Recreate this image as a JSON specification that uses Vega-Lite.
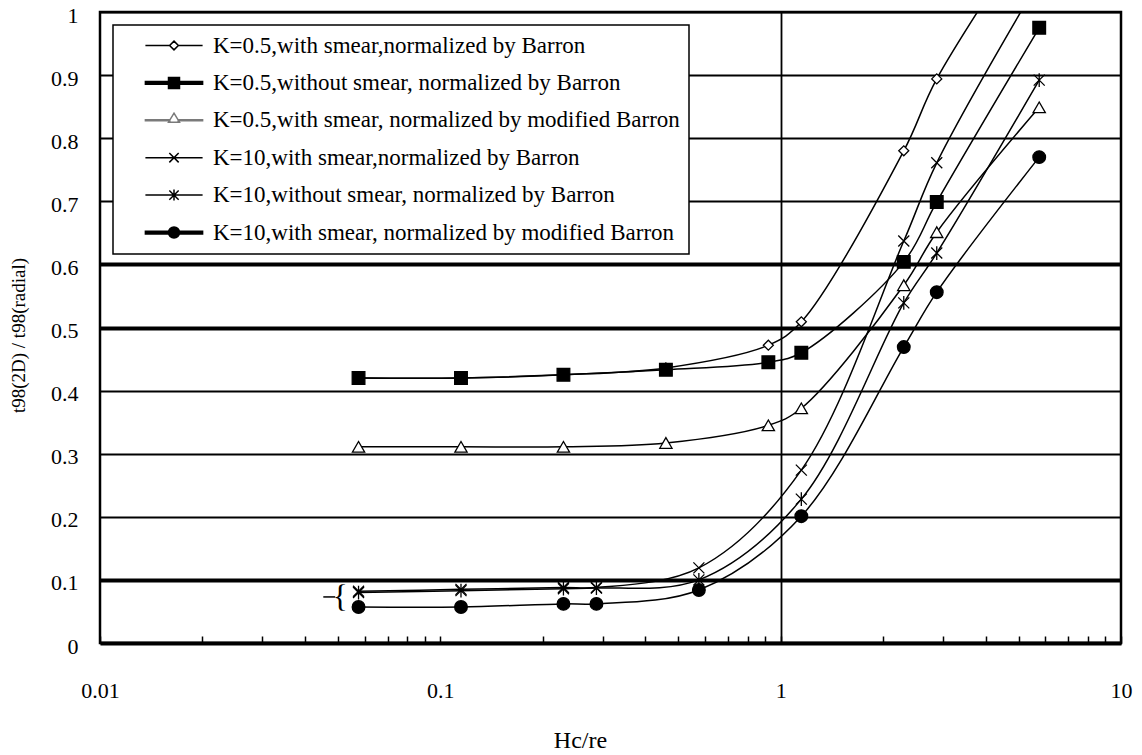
{
  "$schema": "https://vega.github.io/schema/vega-lite/v6.json",
  "width": 1021,
  "height": 631,
  "autosize": {"type": "none"},
  "padding": {"left": 100, "top": 12, "right": 21, "bottom": 112},
  "background": "white",
  "config": {
    "view": {"stroke": "black", "strokeWidth": 2.5},
    "font": "Liberation Serif, Times New Roman, Times, serif",
    "legend": {
      "orient": "none",
      "legendX": 13,
      "legendY": 13,
      "fillColor": "white",
      "strokeColor": "black",
      "padding": 9,
      "rowPadding": 13.4,
      "symbolSize": 121,
      "symbolStrokeWidth": 1.5,
      "symbolOpacity": 1,
      "symbolOffset": 40.5,
      "labelOffset": 27.5,
      "labelFontSize": 23,
      "labelColor": "black",
      "labelLimit": 2000
    }
  },
  "resolve": {"scale": {"shape": "independent"}},
  "datasets": {
    "pts": [
      {"s": "K=0.5,with smear,normalized by Barron", "x": 0.0575, "y": 0.42},
      {"s": "K=0.5,with smear,normalized by Barron", "x": 0.115, "y": 0.42},
      {"s": "K=0.5,with smear,normalized by Barron", "x": 0.23, "y": 0.425},
      {"s": "K=0.5,with smear,normalized by Barron", "x": 0.46, "y": 0.436},
      {"s": "K=0.5,with smear,normalized by Barron", "x": 0.92, "y": 0.472},
      {"s": "K=0.5,with smear,normalized by Barron", "x": 1.15, "y": 0.509},
      {"s": "K=0.5,with smear,normalized by Barron", "x": 2.3, "y": 0.78},
      {"s": "K=0.5,with smear,normalized by Barron", "x": 2.875, "y": 0.894},
      {"s": "K=0.5,with smear,normalized by Barron", "x": 5.75, "y": 1.15},
      {"s": "K=0.5,without smear, normalized by Barron", "x": 0.0575, "y": 0.42},
      {"s": "K=0.5,without smear, normalized by Barron", "x": 0.115, "y": 0.42},
      {"s": "K=0.5,without smear, normalized by Barron", "x": 0.23, "y": 0.425},
      {"s": "K=0.5,without smear, normalized by Barron", "x": 0.46, "y": 0.433},
      {"s": "K=0.5,without smear, normalized by Barron", "x": 0.92, "y": 0.445},
      {"s": "K=0.5,without smear, normalized by Barron", "x": 1.15, "y": 0.46},
      {"s": "K=0.5,without smear, normalized by Barron", "x": 2.3, "y": 0.604},
      {"s": "K=0.5,without smear, normalized by Barron", "x": 2.875, "y": 0.699},
      {"s": "K=0.5,without smear, normalized by Barron", "x": 5.75, "y": 0.975},
      {"s": "K=0.5,with smear, normalized by modified Barron", "x": 0.0575, "y": 0.311},
      {"s": "K=0.5,with smear, normalized by modified Barron", "x": 0.115, "y": 0.311},
      {"s": "K=0.5,with smear, normalized by modified Barron", "x": 0.23, "y": 0.311},
      {"s": "K=0.5,with smear, normalized by modified Barron", "x": 0.46, "y": 0.317},
      {"s": "K=0.5,with smear, normalized by modified Barron", "x": 0.92, "y": 0.345},
      {"s": "K=0.5,with smear, normalized by modified Barron", "x": 1.15, "y": 0.372},
      {"s": "K=0.5,with smear, normalized by modified Barron", "x": 2.3, "y": 0.567},
      {"s": "K=0.5,with smear, normalized by modified Barron", "x": 2.875, "y": 0.651},
      {"s": "K=0.5,with smear, normalized by modified Barron", "x": 5.75, "y": 0.849},
      {"s": "K=10,with smear,normalized by Barron", "x": 0.0575, "y": 0.082},
      {"s": "K=10,with smear,normalized by Barron", "x": 0.115, "y": 0.085},
      {"s": "K=10,with smear,normalized by Barron", "x": 0.23, "y": 0.088},
      {"s": "K=10,with smear,normalized by Barron", "x": 0.2875, "y": 0.088},
      {"s": "K=10,with smear,normalized by Barron", "x": 0.575, "y": 0.119},
      {"s": "K=10,with smear,normalized by Barron", "x": 1.15, "y": 0.274},
      {"s": "K=10,with smear,normalized by Barron", "x": 2.3, "y": 0.637},
      {"s": "K=10,with smear,normalized by Barron", "x": 2.875, "y": 0.761},
      {"s": "K=10,with smear,normalized by Barron", "x": 5.75, "y": 1.05},
      {"s": "K=10,without smear, normalized by Barron", "x": 0.0575, "y": 0.08},
      {"s": "K=10,without smear, normalized by Barron", "x": 0.115, "y": 0.083},
      {"s": "K=10,without smear, normalized by Barron", "x": 0.23, "y": 0.086},
      {"s": "K=10,without smear, normalized by Barron", "x": 0.2875, "y": 0.087},
      {"s": "K=10,without smear, normalized by Barron", "x": 0.575, "y": 0.1},
      {"s": "K=10,without smear, normalized by Barron", "x": 1.15, "y": 0.228},
      {"s": "K=10,without smear, normalized by Barron", "x": 2.3, "y": 0.539},
      {"s": "K=10,without smear, normalized by Barron", "x": 2.875, "y": 0.618},
      {"s": "K=10,without smear, normalized by Barron", "x": 5.75, "y": 0.892},
      {"s": "K=10,with smear, normalized by modified Barron", "x": 0.0575, "y": 0.057},
      {"s": "K=10,with smear, normalized by modified Barron", "x": 0.115, "y": 0.057},
      {"s": "K=10,with smear, normalized by modified Barron", "x": 0.23, "y": 0.062},
      {"s": "K=10,with smear, normalized by modified Barron", "x": 0.2875, "y": 0.062},
      {"s": "K=10,with smear, normalized by modified Barron", "x": 0.575, "y": 0.084},
      {"s": "K=10,with smear, normalized by modified Barron", "x": 1.15, "y": 0.201},
      {"s": "K=10,with smear, normalized by modified Barron", "x": 2.3, "y": 0.469},
      {"s": "K=10,with smear, normalized by modified Barron", "x": 2.875, "y": 0.556},
      {"s": "K=10,with smear, normalized by modified Barron", "x": 5.75, "y": 0.77}
    ],
    "brace": [
      {"x": 0.0508, "y": 0.073, "t": "{"}
    ],
    "stub": [
      {"x": 0.0453, "x2": 0.0491, "y": 0.073}
    ]
  },
  "encoding": {
    "x": {
      "field": "x",
      "type": "quantitative",
      "scale": {"type": "log", "domain": [0.01, 10], "nice": false},
      "axis": {
        "title": "Hc/re",
        "values": [0.01, 0.02, 0.03, 0.04, 0.05, 0.06, 0.07, 0.08, 0.09, 0.1, 0.2, 0.3, 0.4, 0.5, 0.6, 0.7, 0.8, 0.9, 1, 2, 3, 4, 5, 6, 7, 8, 9, 10],
        "format": "~g",
        "labelExpr": "indexof([0.01, 0.1, 1, 10], datum.value) >= 0 ? datum.label : ''",
        "labelOverlap": false,
        "labelFlush": false,
        "labelFontSize": 22,
        "labelColor": "black",
        "labelPadding": 44,
        "grid": true,
        "gridColor": "black",
        "gridWidth": 1.8,
        "gridOpacity": {"condition": {"test": "datum.value === 1", "value": 1}, "value": 0},
        "domain": true,
        "domainColor": "black",
        "domainWidth": 4,
        "ticks": true,
        "tickColor": "black",
        "tickWidth": 1.5,
        "tickSize": -7,
        "titleFontSize": 24,
        "titleFontWeight": "normal",
        "titleColor": "black",
        "titleX": 480,
        "titleY": 97,
        "titleBaseline": "middle"
      }
    },
    "y": {
      "field": "y",
      "type": "quantitative",
      "scale": {"domain": [0, 1], "nice": false},
      "axis": {
        "title": "t98(2D) / t98(radial)",
        "values": [0, 0.1, 0.2, 0.3, 0.4, 0.5, 0.6, 0.7, 0.8, 0.9, 1],
        "format": "~g",
        "labelFontSize": 22,
        "labelColor": "black",
        "labelPadding": 22,
        "labelOffset": 3,
        "ticks": false,
        "domain": false,
        "grid": true,
        "gridColor": "black",
        "gridOpacity": 1,
        "gridWidth": {"condition": {"test": "indexof([0.1, 0.5, 0.6], datum.value) >= 0", "value": 4}, "value": 2},
        "titleFontSize": 19,
        "titleFontWeight": "normal",
        "titleColor": "black",
        "titleX": -82,
        "titleY": 323,
        "titleBaseline": "middle",
        "titleAlign": "center"
      }
    }
  },
  "layer": [
    {
      "data": {"name": "pts"},
      "mark": {"type": "line", "interpolate": "catmull-rom", "stroke": "black", "strokeWidth": 1.5, "clip": true},
      "encoding": {
        "detail": {"field": "s", "type": "nominal"}
      }
    },
    {
      "data": {"name": "pts"},
      "mark": {"type": "point", "filled": true, "stroke": "black", "strokeWidth": 1.3, "opacity": 1, "clip": true},
      "encoding": {
        "shape": {
          "field": "s",
          "type": "nominal",
          "scale": {
            "domain": ["K=0.5,with smear,normalized by Barron", "K=0.5,without smear, normalized by Barron", "K=0.5,with smear, normalized by modified Barron", "K=10,with smear,normalized by Barron", "K=10,without smear, normalized by Barron", "K=10,with smear, normalized by modified Barron"],
            "range": ["diamond", "square", "triangle-up", "M-1,-1L1,1M-1,1L1,-1", "M-1,-1L1,1M-1,1L1,-1M0,-1.25L0,1.25", "circle"]
          },
          "legend": null
        },
        "fill": {
          "field": "s",
          "type": "nominal",
          "scale": {
            "domain": ["K=0.5,with smear,normalized by Barron", "K=0.5,without smear, normalized by Barron", "K=0.5,with smear, normalized by modified Barron", "K=10,with smear,normalized by Barron", "K=10,without smear, normalized by Barron", "K=10,with smear, normalized by modified Barron"],
            "range": ["white", "black", "white", "white", "white", "black"]
          },
          "legend": null
        },
        "size": {
          "field": "s",
          "type": "nominal",
          "scale": {
            "type": "ordinal",
            "domain": ["K=0.5,with smear,normalized by Barron", "K=0.5,without smear, normalized by Barron", "K=0.5,with smear, normalized by modified Barron", "K=10,with smear,normalized by Barron", "K=10,without smear, normalized by Barron", "K=10,with smear, normalized by modified Barron"],
            "range": [100, 160, 150, 121, 121, 160]
          },
          "legend": null
        }
      }
    },
    {
      "data": {"name": "pts"},
      "mark": {"type": "point", "filled": false, "opacity": 0, "strokeWidth": 1.5},
      "encoding": {
        "shape": {
          "field": "s",
          "type": "nominal",
          "scale": {
            "domain": ["K=0.5,with smear,normalized by Barron", "K=0.5,without smear, normalized by Barron", "K=0.5,with smear, normalized by modified Barron", "K=10,with smear,normalized by Barron", "K=10,without smear, normalized by Barron", "K=10,with smear, normalized by modified Barron"],
            "range": [
              "M0,-0.8L0.8,0L0,0.8L-0.8,0Z M-5.2,0L-0.8,0 M0.8,0L5.2,0",
              "M-1,-1L1,-1L1,1L-1,1Z M-5.2,-0.25L5.2,-0.25L5.2,0.25L-5.2,0.25Z",
              "M0,-1.3L1,0.35L-1,0.35Z M-5.2,-0.08L-0.75,-0.08L-0.75,0.08L-5.2,0.08Z M0.75,-0.08L5.2,-0.08L5.2,0.08L0.75,0.08Z",
              "M-0.85,-0.85L0.85,0.85M-0.85,0.85L0.85,-0.85M-5.2,0L5.2,0",
              "M-0.85,-0.85L0.85,0.85M-0.85,0.85L0.85,-0.85M0,-1L0,1M-5.2,0L5.2,0",
              "M-1,0A1,1,0,1,1,1,0A1,1,0,1,1,-1,0Z M-5.2,-0.25L5.2,-0.25L5.2,0.25L-5.2,0.25Z"
            ]
          },
          "legend": {
            "title": null,
            "labelExpr": "datum.label + '\u00a0\u00a0\u00a0\u00a0\u00a0'",
            "encoding": {
              "legend": {"strokeWidth": {"value": 1.5}},
              "symbols": {
                "fill": {"value": {"expr": "['white', 'black', 'white', 'transparent', 'transparent', 'black'][datum.index]"}},
                "stroke": {"value": {"expr": "['black', 'black', '#7a7a7a', 'black', 'black', 'black'][datum.index]"}},
                "opacity": {"value": 1}
              }
            }
          }
        }
      }
    },
    {
      "data": {"name": "brace"},
      "mark": {"type": "text", "fontSize": 32, "baseline": "middle", "align": "center", "color": "black"},
      "encoding": {
        "text": {"field": "t", "type": "nominal"}
      }
    },
    {
      "data": {"name": "stub"},
      "mark": {"type": "rule", "color": "black", "strokeWidth": 1.5},
      "encoding": {
        "x2": {"field": "x2"}
      }
    }
  ]
}
